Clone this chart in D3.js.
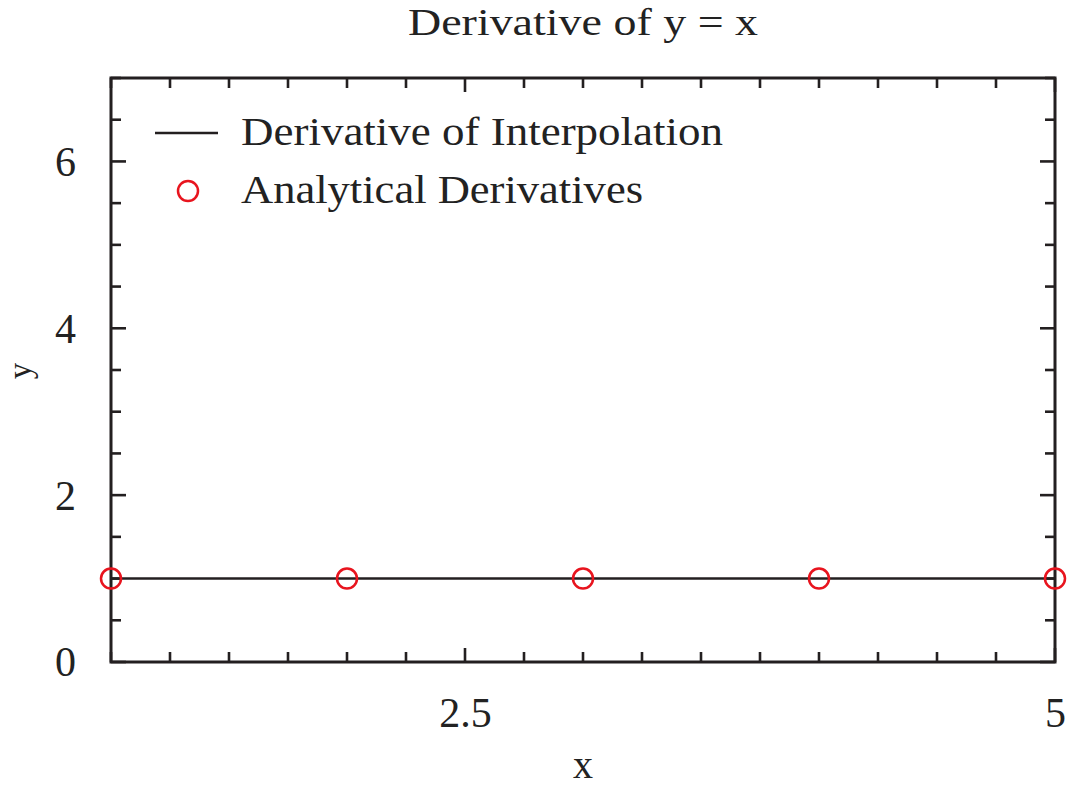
<!DOCTYPE html>
<html>
<head>
<meta charset="utf-8">
<script src="https://cdn.jsdelivr.net/npm/d3@7"></script>
<style>
  html, body { margin: 0; padding: 0; background: #fff; }
  svg { display: block; }
  text { font-family: "Liberation Serif", "DejaVu Serif", serif; fill: #222; }
</style>
</head>
<body>
<svg id="chart" width="1069" height="787"></svg>
<script>
// ---- data ----
const interpX = [1, 2, 3, 4, 5];
const interpY = [1, 1, 1, 1, 1];
const analyticX = [1, 2, 3, 4, 5];
const analyticY = [1, 1, 1, 1, 1];
const xTickValues = [2.5, 5];
const xTickLabels = ["2.5", "5"];
const yTickValues = [0, 2, 4, 6];
const yTickLabels = ["0", "2", "4", "6"];
const titleText = "Derivative of y = x";
const legendLabels = ["Derivative of Interpolation", "Analytical Derivatives"];

// ---- layout ----
const W = 1069, H = 787;
const L = 111, R = 1055, T = 78, B = 662;
const axisColor = "#231f20";
const red = "#e8141e";

const svg = d3.select("#chart");
const x = d3.scaleLinear().domain([1, 5]).range([L, R]);
const y = d3.scaleLinear().domain([0, 7]).range([B, T]);

const xMinor = d3.range(1, 5.0001, 0.25).filter(v => !xTickValues.some(m => Math.abs(m - v) < 1e-6));
const yMinor = d3.range(0, 7.0001, 0.5).filter(v => !yTickValues.some(m => Math.abs(m - v) < 1e-6));

const g = svg.append("g");

// frame
g.append("rect").attr("x", L).attr("y", T).attr("width", R - L).attr("height", B - T)
  .attr("fill", "none").attr("stroke", axisColor).attr("stroke-width", 3);

function drawTicks(vals, len, orient) {
  vals.forEach(v => {
    if (orient === "bottom") {
      g.append("line").attr("x1", x(v)).attr("x2", x(v)).attr("y1", B).attr("y2", B - len);
    } else if (orient === "top") {
      g.append("line").attr("x1", x(v)).attr("x2", x(v)).attr("y1", T).attr("y2", T + len);
    } else if (orient === "left") {
      g.append("line").attr("x1", L).attr("x2", L + len).attr("y1", y(v)).attr("y2", y(v));
    } else {
      g.append("line").attr("x1", R).attr("x2", R - len).attr("y1", y(v)).attr("y2", y(v));
    }
  });
}
drawTicks(xMinor, 10, "bottom");
drawTicks(xMinor, 10, "top");
drawTicks(xTickValues, 14, "bottom");
drawTicks(xTickValues, 14, "top");
drawTicks(yMinor, 10, "left");
drawTicks(yMinor, 10, "right");
drawTicks(yTickValues, 15, "left");
drawTicks(yTickValues, 15, "right");
g.selectAll("line").attr("stroke", axisColor).attr("stroke-width", 2.6);

// tick labels via d3 axes (tick marks hidden, drawn above)
const xAxis = d3.axisBottom(x).tickValues(xTickValues).tickFormat((d, i) => xTickLabels[i]).tickSize(0).tickPadding(0);
const xa = svg.append("g").attr("transform", `translate(0, 727)`).call(xAxis);
xa.select(".domain").remove();
xa.selectAll("text").attr("dy", 0).attr("font-size", 42).attr("fill", "#222")
  .style("font-family", '"Liberation Serif", serif');

const yAxis = d3.axisLeft(y).tickValues(yTickValues).tickFormat((d, i) => yTickLabels[i]).tickSize(0).tickPadding(0);
const ya = svg.append("g").attr("transform", `translate(76, 0)`).call(yAxis);
ya.select(".domain").remove();
ya.selectAll("text").attr("dy", "0.33em").attr("font-size", 42).attr("fill", "#222")
  .style("font-family", '"Liberation Serif", serif');

// data line
const line = d3.line().x(d => x(d[0])).y(d => y(d[1]));
svg.append("path").datum(d3.zip(interpX, interpY)).attr("d", line)
  .attr("fill", "none").attr("stroke", "#231f20").attr("stroke-width", 2.4);

// circles
svg.selectAll("circle.pt").data(d3.zip(analyticX, analyticY)).enter().append("circle")
  .attr("class", "pt").attr("cx", d => x(d[0])).attr("cy", d => y(d[1])).attr("r", 10)
  .attr("fill", "none").attr("stroke", red).attr("stroke-width", 2.5);

// title
svg.append("text").attr("x", 583).attr("y", 35).attr("text-anchor", "middle")
  .attr("font-size", 38).attr("textLength", 350).attr("lengthAdjust", "spacingAndGlyphs").text(titleText);

// axis labels
svg.append("text").attr("x", 583).attr("y", 778).attr("text-anchor", "middle")
  .attr("font-size", 40).text("x");
svg.append("text").attr("transform", "translate(31,371) rotate(-90)").attr("text-anchor", "middle")
  .attr("font-size", 33).text("y");

// legend
const lg = svg.append("g");
lg.append("line").attr("x1", 155).attr("x2", 218).attr("y1", 133).attr("y2", 133)
  .attr("stroke", "#231f20").attr("stroke-width", 2.5);
lg.append("circle").attr("cx", 188).attr("cy", 191).attr("r", 10)
  .attr("fill", "none").attr("stroke", red).attr("stroke-width", 2.5);
lg.append("text").attr("x", 241).attr("y", 145).attr("font-size", 41)
  .attr("textLength", 482).attr("lengthAdjust", "spacingAndGlyphs").text(legendLabels[0]);
lg.append("text").attr("x", 241).attr("y", 203).attr("font-size", 41)
  .attr("textLength", 402).attr("lengthAdjust", "spacingAndGlyphs").text(legendLabels[1]);
</script>
</body>
</html>
